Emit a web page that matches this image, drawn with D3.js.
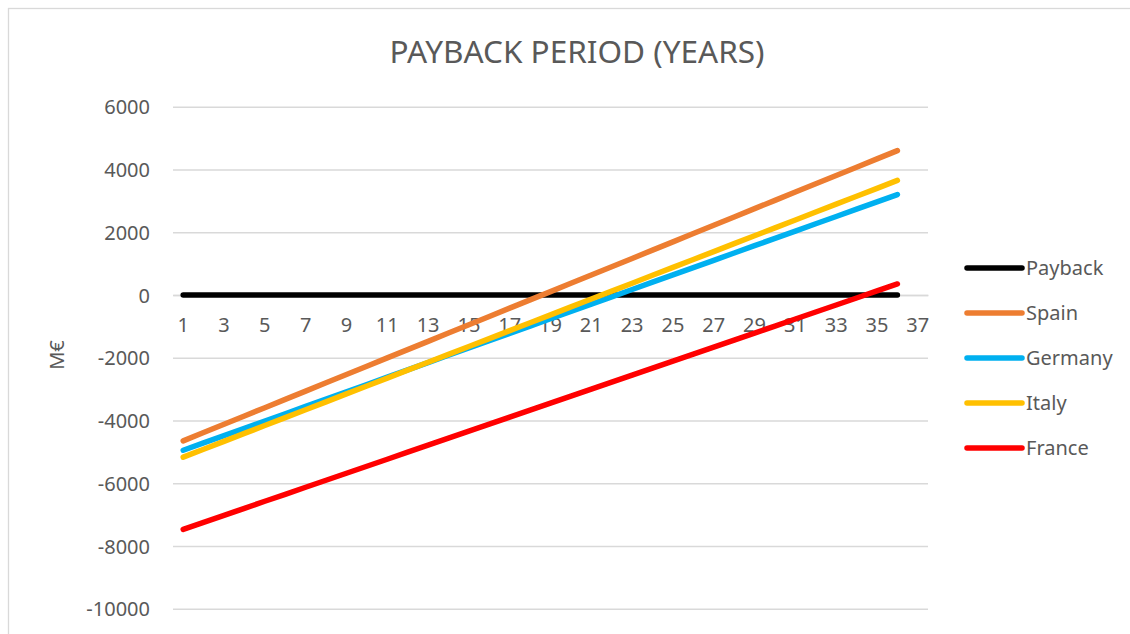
<!DOCTYPE html>
<html>
<head>
<meta charset="utf-8">
<script src="https://cdn.jsdelivr.net/npm/d3@7"></script>
<style>
  html, body { margin: 0; padding: 0; background: #ffffff; }
  #container { width: 1130px; height: 634px; }
  text { font-family: 'Noto Sans', sans-serif; fill: #595959; }
</style>
</head>
<body>
<div id="container"></div>
<script>
var years = ['1','2','3','4','5','6','7','8','9','10','11','12','13','14','15','16','17','18','19','20',
    '21','22','23','24','25','26','27','28','29','30','31','32','33','34','35','36','37']

var payback = [0,0,0,0,0,0,0,0,0,0,0,0,0,0,0,0,0,0,0,0,0,0,0,0,0,0,0,0,0,0,0,0,0,0,0,0]
var spain = [-4650,-4386,-4121,-3857,-3593,-3329,-3064,-2800,-2536,-2271,-2007,-1743,-1479,-1214,-950,-686,-421,-157,
    107,371,636,900,1164,1429,1693,1957,2221,2486,2750,3014,3279,3543,3807,4071,4336,4600]
var germany = [-4950,-4717,-4484,-4251,-4019,-3786,-3553,-3320,-3087,-2854,-2621,-2389,-2156,-1923,-1690,-1457,-1224,-991,
    -759,-526,-293,-60,173,406,639,871,1104,1337,1570,1803,2036,2269,2501,2734,2967,3200]
var italy = [-5170,-4918,-4666,-4414,-4162,-3910,-3658,-3406,-3154,-2902,-2650,-2398,-2146,-1894,-1642,-1390,-1138,-886,
    -634,-382,-130,122,374,626,878,1130,1382,1634,1886,2138,2390,2642,2894,3146,3398,3650]
var france = [-7470,-7247,-7023,-6800,-6576,-6353,-6129,-5906,-5683,-5459,-5236,-5012,-4789,-4565,-4342,-4119,-3895,-3672,
    -3448,-3225,-3001,-2778,-2555,-2331,-2108,-1884,-1661,-1437,-1214,-991,-767,-544,-320,-97,127,350]

var seriesNames = ['Payback', 'Spain', 'Germany', 'Italy', 'France']
var seriesValues = [payback, spain, germany, italy, france]
var seriesColors = ['#000000', '#ed7d31', '#00b0f0', '#ffc000', '#ff0000']

var yTicks = [-10000, -8000, -6000, -4000, -2000, 0, 2000, 4000, 6000]
var xTickLabels = years.filter(function(d, i){ return i % 2 === 0 })

var width = 1130
var height = 634
var plotLeft = 173
var plotRight = 928
var plotTop = 106.7
var plotBottom = 608.7

var svgContainer = d3.select('#container').append('svg')
    .attr('width', width)
    .attr('height', height)

// chart frame (right and bottom edges fall outside the picture)
svgContainer.append('rect')
    .attr('x', 8.5)
    .attr('y', 8.5)
    .attr('width', width + 20)
    .attr('height', height + 20)
    .attr('fill', '#ffffff')
    .attr('stroke', '#d9d9d9')
    .attr('stroke-width', 1.3)

var x = d3.scaleBand()
    .domain(years)
    .range([plotLeft, plotRight])
    .padding(0)

var y = d3.scaleLinear()
    .domain([-10000, 6000])
    .range([plotBottom, plotTop])

// gridlines + value labels
var yAxis = svgContainer.append('g')
    .attr('transform', 'translate(' + plotLeft + ',0)')
    .call(d3.axisLeft(y)
        .tickValues(yTicks)
        .tickSize(-(plotRight - plotLeft))
        .tickPadding(23)
        .tickFormat(function(d){ return String(d) }))

yAxis.select('.domain').remove()
yAxis.selectAll('.tick line')
    .attr('stroke', '#d9d9d9')
    .attr('stroke-width', 1.5)
yAxis.selectAll('.tick text')
    .attr('font-size', 20)
    .attr('font-family', 'Noto Sans')
    .attr('fill', '#595959')
    .attr('dy', '0.36em')

// category axis crossing at zero
var xAxis = svgContainer.append('g')
    .attr('transform', 'translate(0,' + y(0) + ')')
    .call(d3.axisBottom(x)
        .tickValues(xTickLabels)
        .tickSize(0)
        .tickPadding(23))

xAxis.select('.domain')
    .attr('stroke', '#d9d9d9')
    .attr('stroke-width', 1.5)
xAxis.selectAll('.tick text')
    .attr('font-size', 20)
    .attr('font-family', 'Noto Sans')
    .attr('fill', '#595959')

var line = d3.line()
    .x(function(d, i){ return x(years[i]) + x.bandwidth() / 2 })
    .y(function(d){ return y(d) })

for(var i = 0; i < seriesValues.length; i++){
    svgContainer.append('path')
        .datum(seriesValues[i])
        .attr('d', line)
        .attr('fill', 'none')
        .attr('stroke', seriesColors[i])
        .attr('stroke-width', 5.5)
        .attr('stroke-linecap', 'round')
        .attr('stroke-linejoin', 'round')
}

// legend
var legendY = 268
for(var j = 0; j < seriesNames.length; j++){
    svgContainer.append('line')
        .attr('x1', 967)
        .attr('x2', 1022)
        .attr('y1', legendY)
        .attr('y2', legendY)
        .attr('stroke', seriesColors[j])
        .attr('stroke-width', 5.5)
        .attr('stroke-linecap', 'round')

    svgContainer.append('text')
        .attr('x', 1026)
        .attr('y', legendY + 7)
        .attr('font-size', 20)
        .text(seriesNames[j])

    legendY += 45
}

svgContainer.append('text')
    .attr('x', 577)
    .attr('y', 63)
    .attr('text-anchor', 'middle')
    .attr('font-size', 31.5)
    .text('PAYBACK PERIOD (YEARS)')

svgContainer.append('text')
    .attr('transform', 'translate(64,355) rotate(-90)')
    .attr('text-anchor', 'middle')
    .attr('font-size', 20)
    .text('M€')
</script>
</body>
</html>
